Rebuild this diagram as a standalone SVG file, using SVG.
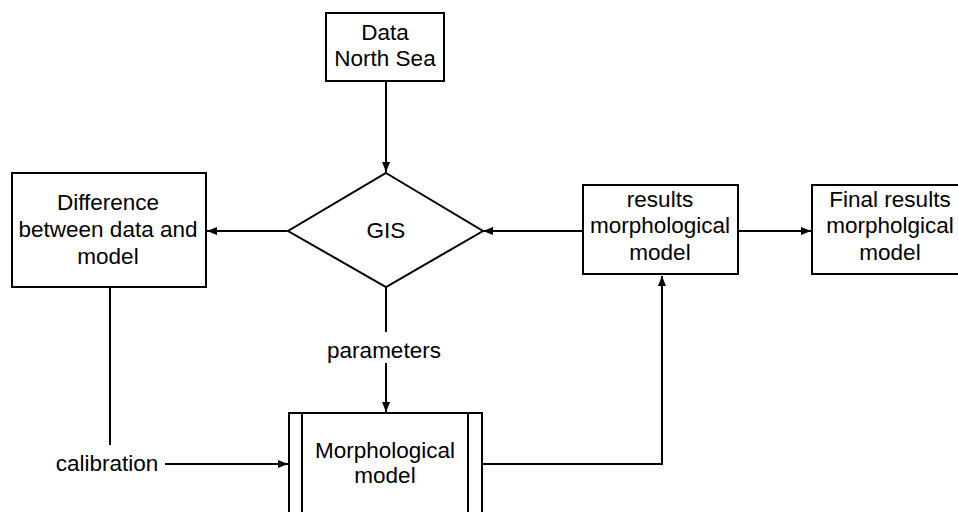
<svg xmlns="http://www.w3.org/2000/svg" width="958" height="512" viewBox="0 0 958 512">
<defs>
<style>
.box{fill:#fff;stroke:#000;stroke-width:2}
.ln{fill:none;stroke:#000;stroke-width:2}
text{font-family:"Liberation Sans",Arial,sans-serif;font-size:22.5px;fill:#000;text-anchor:middle}
</style>
<marker id="ah" viewBox="0 0 10 10" refX="10" refY="5" markerWidth="10" markerHeight="10" markerUnits="userSpaceOnUse" orient="auto">
<path d="M0,1 L10,5 L0,9 Z" fill="#000"/>
</marker>
</defs>
<rect width="958" height="512" fill="#fff"/>
<g id="connectors">
<line class="ln" x1="386" y1="81" x2="386" y2="172" marker-end="url(#ah)"/>
<line class="ln" x1="287" y1="231" x2="207" y2="231" marker-end="url(#ah)"/>
<line class="ln" x1="583" y1="231" x2="483" y2="231" marker-end="url(#ah)"/>
<line class="ln" x1="738" y1="231" x2="811" y2="231" marker-end="url(#ah)"/>
<line class="ln" x1="386" y1="287" x2="386" y2="332"/>
<line class="ln" x1="386" y1="363" x2="386" y2="412" marker-end="url(#ah)"/>
<line class="ln" x1="110" y1="287" x2="110" y2="445"/>
<line class="ln" x1="165" y1="464" x2="288" y2="464" marker-end="url(#ah)"/>
<polyline class="ln" points="482,464 662,464 662,276" marker-end="url(#ah)"/>
<text x="384" y="358">parameters</text>
<text x="107" y="471">calibration</text>
</g>
<g id="data">
<rect class="box" x="326" y="13" width="118" height="68"/>
<text x="385" y="40">Data</text>
<text x="385" y="66">North Sea</text>
</g>
<g id="gis">
<polygon class="box" points="386,173 483,231 386,287 288,231"/>
<text x="386" y="238">GIS</text>
</g>
<g id="difference">
<rect class="box" x="12" y="173" width="194" height="114"/>
<text x="108" y="210">Difference</text>
<text x="108" y="237">between data and</text>
<text x="108" y="264">model</text>
</g>
<g id="results">
<rect class="box" x="583" y="185" width="155" height="89"/>
<text x="660" y="207">results</text>
<text x="660" y="233">morphological</text>
<text x="660" y="260">model</text>
</g>
<g id="final">
<rect class="box" x="812" y="185" width="156" height="89"/>
<text x="890" y="207">Final results</text>
<text x="890" y="233">morpholgical</text>
<text x="890" y="260">model</text>
</g>
<g id="morph">
<rect class="box" x="289" y="413" width="193" height="130"/>
<line class="ln" x1="302" y1="413" x2="302" y2="543"/>
<line class="ln" x1="468" y1="413" x2="468" y2="543"/>
<text x="385" y="458">Morphological</text>
<text x="385" y="483">model</text>
</g>
</svg>
